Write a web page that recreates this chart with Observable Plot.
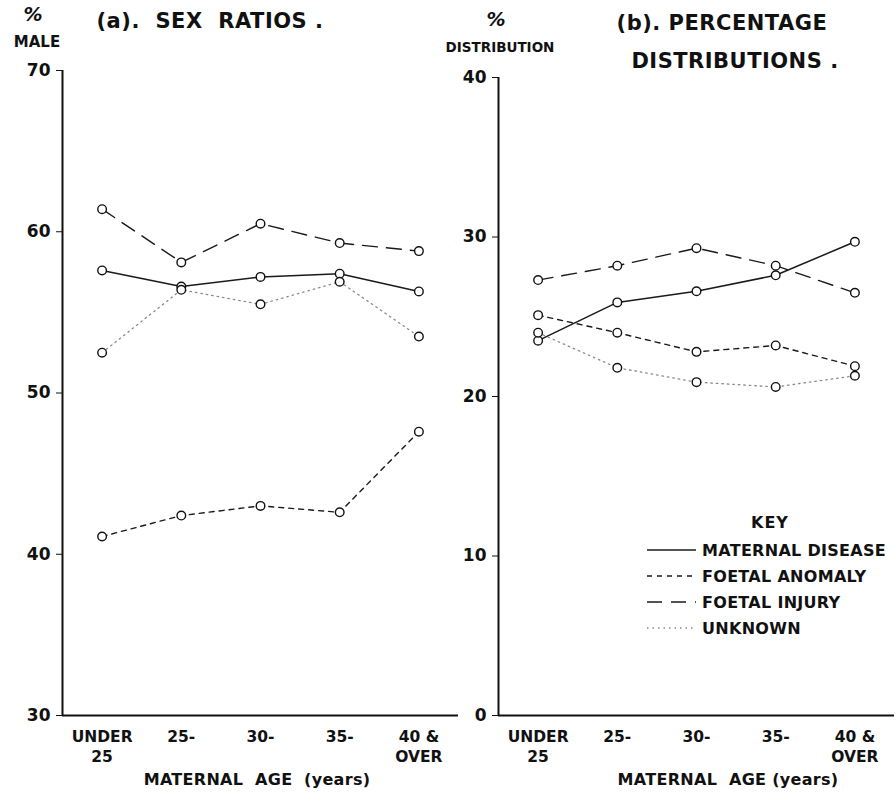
<!DOCTYPE html>
<html>
<head>
<meta charset="utf-8">
<script src="https://cdn.jsdelivr.net/npm/d3@7"></script>
<script src="https://cdn.jsdelivr.net/npm/@observablehq/plot@0.6"></script>
<style>
  html, body { margin: 0; padding: 0; background: #fff; }
  #wrap { position: relative; width: 896px; height: 802px; overflow: hidden; font-family: "DejaVu Sans", sans-serif; color: #111; }
  .lbl { position: absolute; white-space: pre; line-height: 1; transform: translate(-50%, -50%); font-weight: bold; }
  .panel { position: absolute; top: 0; }
</style>
</head>
<body>
<div id="wrap"></div>
<script>
// ---------------- data ----------------
const ageLabels = ["UNDER\n25", "25-", "30-", "35-", "40 &\nOVER"];
const seriesNames = ["MATERNAL DISEASE", "FOETAL ANOMALY", "FOETAL INJURY", "UNKNOWN"];

// (a) Sex ratios, % male
const sexMaternal = [57.6, 56.6, 57.2, 57.4, 56.3];
const sexAnomaly  = [41.1, 42.4, 43.0, 42.6, 47.6];
const sexInjury   = [61.4, 58.1, 60.5, 59.3, 58.8];
const sexUnknown  = [52.5, 56.4, 55.5, 56.9, 53.5];

// (b) Percentage distributions
const pctMaternal = [23.5, 25.9, 26.6, 27.6, 29.7];
const pctAnomaly  = [25.1, 24.0, 22.8, 23.2, 21.9];
const pctInjury   = [27.3, 28.2, 29.3, 28.2, 26.5];
const pctUnknown  = [24.0, 21.8, 20.9, 20.6, 21.3];

const sexTicks = [30, 40, 50, 60, 70];
const pctTicks = [0, 10, 20, 30, 40];

// ---------------- styles ----------------
const styles = {
  "MATERNAL DISEASE": {stroke: "#1a1a1a", dash: null, width: 1.5},
  "FOETAL ANOMALY":   {stroke: "#1a1a1a", dash: "5,5", width: 1.4},
  "FOETAL INJURY":    {stroke: "#1a1a1a", dash: "15,9", width: 1.4},
  "UNKNOWN":          {stroke: "#8a8a8a", dash: "1.5,4", width: 1.3}
};

function toRows(arrs) {
  const rows = [];
  arrs.forEach((vals, k) => vals.forEach((v, i) => rows.push({series: seriesNames[k], i, v})));
  return rows;
}
const sexRows = toRows([sexMaternal, sexAnomaly, sexInjury, sexUnknown]);
const pctRows = toRows([pctMaternal, pctAnomaly, pctInjury, pctUnknown]);

const xDomain = [-0.5, ageLabels.length - 0.5];
const font = '"DejaVu Sans", sans-serif';

function makePanel(rows, yDomain, yTicks, opts) {
  const lineMarks = seriesNames.map(s => Plot.line(rows.filter(d => d.series === s), {
    x: "i", y: "v",
    stroke: styles[s].stroke,
    strokeWidth: styles[s].width,
    strokeDasharray: styles[s].dash
  }));
  return Plot.plot({
    width: opts.width,
    height: 802,
    marginLeft: opts.marginLeft,
    marginRight: opts.marginRight,
    marginTop: opts.marginTop,
    marginBottom: 87,
    style: {background: "transparent", overflow: "visible", fontFamily: font, color: "#111"},
    x: {domain: xDomain, axis: null, label: null},
    y: {domain: yDomain, axis: null, label: null},
    marks: [
      Plot.ruleX([xDomain[0]], {stroke: "#111", strokeWidth: 2}),
      Plot.ruleY([yDomain[0]], {stroke: "#111", strokeWidth: 2}),
      Plot.axisY({ticks: yTicks, tickSize: 6, tickPadding: 6, fontSize: 17, fontWeight: "bold",
                  tickFormat: d => String(d), stroke: "#111", label: null}),
      Plot.axisX({ticks: d3.range(ageLabels.length), tickSize: 0, tickPadding: 12, fontSize: 15.5, fontWeight: "bold",
                  tickFormat: i => ageLabels[i], lineHeight: 1.3, label: null}),
      ...lineMarks,
      Plot.dot(rows, {x: "i", y: "v", r: 4.3, fill: "white", stroke: "#111", strokeWidth: 1.4})
    ]
  });
}

const wrap = document.getElementById("wrap");

const pa = makePanel(sexRows, [sexTicks[0], sexTicks[sexTicks.length - 1]], sexTicks,
  {width: 470, marginLeft: 62, marginRight: 12, marginTop: 70});
const da = document.createElement("div");
da.className = "panel"; da.style.left = "0px";
da.appendChild(pa); wrap.appendChild(da);

const pb = makePanel(pctRows, [pctTicks[0], pctTicks[pctTicks.length - 1]], pctTicks,
  {width: 456, marginLeft: 58, marginRight: 2, marginTop: 77});
const db = document.createElement("div");
db.className = "panel"; db.style.left = "440px";
db.appendChild(pb); wrap.appendChild(db);

// ---------------- text labels ----------------
function label(text, x, y, css) {
  const el = document.createElement("div");
  el.className = "lbl";
  el.textContent = text;
  el.style.left = x + "px";
  el.style.top = y + "px";
  Object.assign(el.style, css || {});
  wrap.appendChild(el);
  return el;
}
const titleCss = {fontSize: "21px", letterSpacing: "0.5px"};
label("(a).  SEX  RATIOS .", 210, 21, titleCss);
label("(b). PERCENTAGE", 722, 23, titleCss);
label("DISTRIBUTIONS .", 735, 61, titleCss);

label("%", 33, 14, {fontSize: "19px", fontStyle: "italic"});
label("MALE", 37, 42, {fontSize: "15px"});
label("%", 496, 19, {fontSize: "19px", fontStyle: "italic"});
label("DISTRIBUTION", 500, 48, {fontSize: "13.5px"});

label("MATERNAL  AGE  (years)", 257, 780, {fontSize: "16px", letterSpacing: "0.3px"});
label("MATERNAL  AGE (years)", 728, 780, {fontSize: "16px", letterSpacing: "0.3px"});

// ---------------- key ----------------
label("KEY", 770, 523, {fontSize: "16px", letterSpacing: "1px"});
const keyTop = 550, keyStep = 26;
const keySvg = d3.select(wrap).append("svg")
  .attr("width", 896).attr("height", 802)
  .style("position", "absolute").style("left", "0px").style("top", "0px")
  .style("pointer-events", "none");
seriesNames.forEach((s, k) => {
  const y = keyTop + k * keyStep;
  keySvg.append("line")
    .attr("x1", 647).attr("x2", 696).attr("y1", y).attr("y2", y)
    .attr("stroke", styles[s].stroke).attr("stroke-width", styles[s].width)
    .attr("stroke-dasharray", styles[s].dash);
  keySvg.append("text")
    .attr("x", 702).attr("y", y).attr("dy", "0.36em")
    .attr("font-family", font).attr("font-size", 16).attr("font-weight", "bold")
    .attr("letter-spacing", "0.3px")
    .attr("fill", "#111")
    .text(s);
});
</script>
</body>
</html>
